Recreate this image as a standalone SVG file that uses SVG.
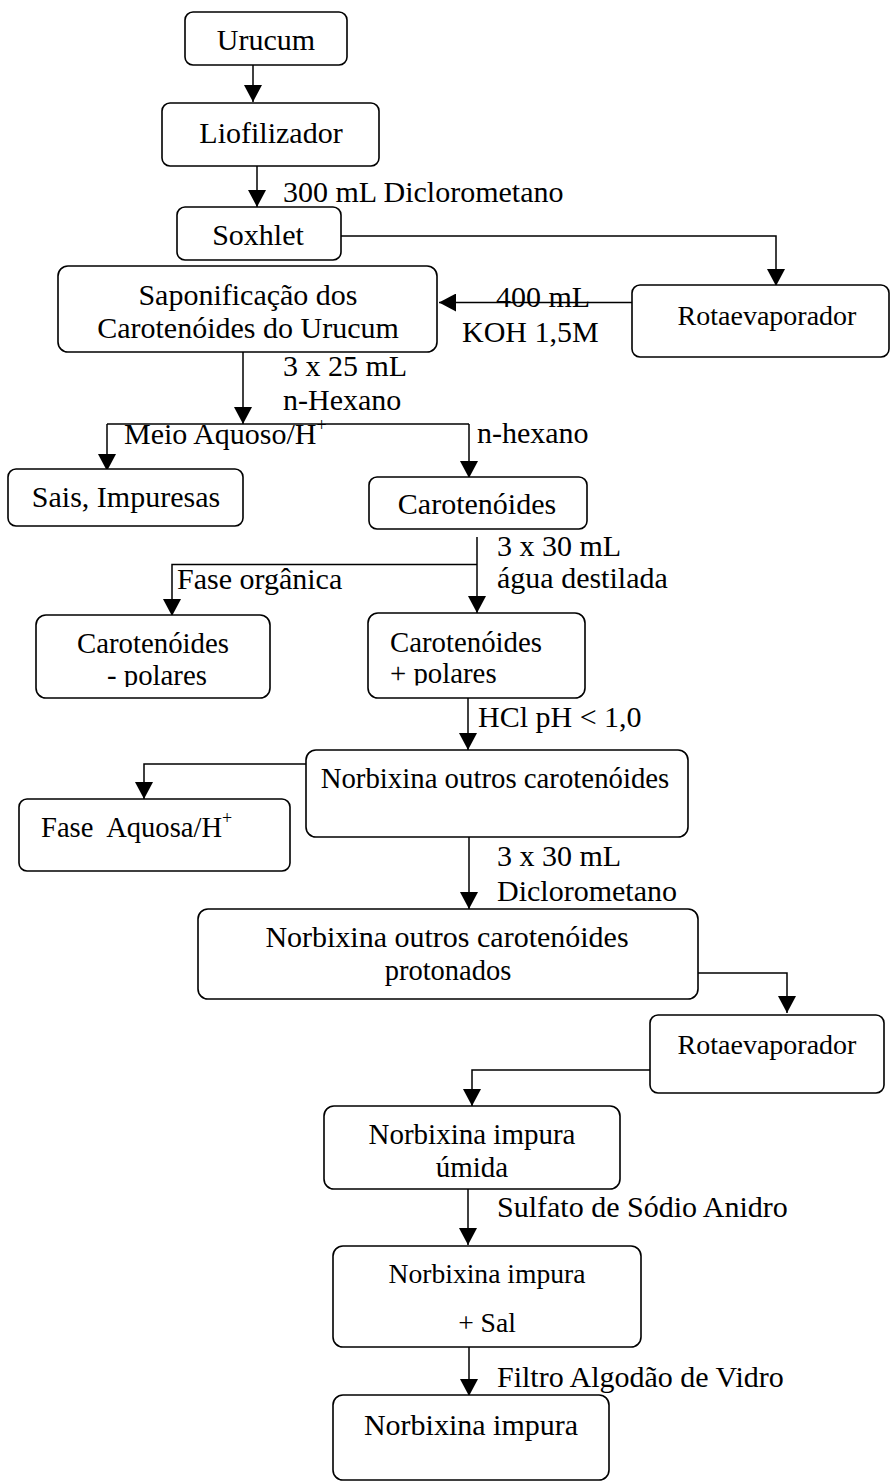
<svg xmlns="http://www.w3.org/2000/svg" width="892" height="1483" viewBox="0 0 892 1483">
<style>
.box{fill:#fff;stroke:#000;stroke-width:1.6}
.ln{fill:none;stroke:#000;stroke-width:1.5}
.t{font-family:"Liberation Serif","Times New Roman",serif;font-size:30px;fill:#000}
.c{text-anchor:middle}
.s{font-size:28.8px}
.sup{font-size:18px}
.pre{white-space:pre}
</style>
<defs>
<marker id="ah" markerUnits="userSpaceOnUse" markerWidth="18" markerHeight="18" refX="17" refY="9" orient="auto" viewBox="0 0 18 18">
<path d="M0,0 L17,9 L0,18 z" fill="#000"/>
</marker>
<clipPath id="clipA"><rect x="0" y="0" width="892" height="687"/></clipPath>
<clipPath id="clipB"><rect x="0" y="0" width="892" height="685.5"/></clipPath>
</defs>

<g id="connectors">
<line class="ln" x1="253" y1="65" x2="253" y2="102" marker-end="url(#ah)"/>
<line class="ln" x1="257" y1="166" x2="257" y2="207" marker-end="url(#ah)"/>
<polyline class="ln" points="341,236 776,236 776,286" marker-end="url(#ah)"/>
<line class="ln" x1="632" y1="302.5" x2="439" y2="302.5" marker-end="url(#ah)"/>
<line class="ln" x1="243" y1="352" x2="243" y2="424" marker-end="url(#ah)"/>
<line class="ln" x1="107" y1="424" x2="469" y2="424"/>
<line class="ln" x1="107" y1="424" x2="107" y2="471" marker-end="url(#ah)"/>
<line class="ln" x1="469" y1="424" x2="469" y2="478" marker-end="url(#ah)"/>
<line class="ln" x1="477" y1="537" x2="477" y2="613" marker-end="url(#ah)"/>
<polyline class="ln" points="477,564.5 172,564.5 172,616" marker-end="url(#ah)"/>
<line class="ln" x1="468" y1="698" x2="468" y2="750" marker-end="url(#ah)"/>
<polyline class="ln" points="306,764 144,764 144,799" marker-end="url(#ah)"/>
<line class="ln" x1="469" y1="837" x2="469" y2="909" marker-end="url(#ah)"/>
<polyline class="ln" points="698,973 787,973 787,1013" marker-end="url(#ah)"/>
<polyline class="ln" points="650,1070 472,1070 472,1106" marker-end="url(#ah)"/>
<line class="ln" x1="468" y1="1189" x2="468" y2="1245" marker-end="url(#ah)"/>
<line class="ln" x1="469" y1="1344" x2="469" y2="1396" marker-end="url(#ah)"/>
</g>

<g id="labels">
<text class="t" x="283" y="202">300 mL Diclorometano</text>
<text class="t" x="496" y="307">400 mL</text>
<text class="t" x="462" y="342">KOH 1,5M</text>
<text class="t" x="283" y="376">3 x 25 mL</text>
<text class="t" x="283" y="410">n-Hexano</text>
<text class="t" x="124" y="444">Meio Aquoso/H<tspan class="sup" dy="-13">+</tspan></text>
<text class="t" x="477" y="443">n-hexano</text>
<text class="t" x="497" y="556">3 x 30 mL</text>
<text class="t" x="497" y="588">água destilada</text>
<text class="t" x="177" y="589">Fase orgânica</text>
<text class="t" x="478" y="727">HCl pH &lt; 1,0</text>
<text class="t" x="497" y="866">3 x 30 mL</text>
<text class="t" x="497" y="901">Diclorometano</text>
<text class="t" x="497" y="1217">Sulfato de Sódio Anidro</text>
<text class="t" x="497" y="1387">Filtro Algodão de Vidro</text>
</g>

<g id="n-urucum">
<rect class="box" x="185" y="12" width="162" height="53" rx="8"/>
<text class="t c" x="266" y="50">Urucum</text>
</g>
<g id="n-liofilizador">
<rect class="box" x="162" y="103" width="217" height="63" rx="8"/>
<text class="t c" x="271" y="143">Liofilizador</text>
</g>
<g id="n-soxhlet">
<rect class="box" x="177" y="207" width="164" height="53" rx="8"/>
<text class="t c" x="258" y="245">Soxhlet</text>
</g>
<g id="n-rota1">
<rect class="box" x="632" y="285" width="257" height="72" rx="8"/>
<text class="t c" x="767" y="325" style="font-size:28px">Rotaevaporador</text>
</g>
<g id="n-saponificacao">
<rect class="box" x="58" y="266" width="379" height="86" rx="10"/>
<text class="t c" x="248" y="305">Saponificação dos</text>
<text class="t c" x="248" y="338">Carotenóides do Urucum</text>
</g>
<g id="n-sais">
<rect class="box" x="8" y="469" width="235" height="57" rx="8"/>
<text class="t c" x="126" y="507">Sais, Impuresas</text>
</g>
<g id="n-carotenoides">
<rect class="box" x="369" y="477" width="218" height="52" rx="8"/>
<text class="t c" x="477" y="514">Carotenóides</text>
</g>
<g id="n-menos-polares">
<rect class="box" x="36" y="615" width="234" height="83" rx="10"/>
<g clip-path="url(#clipA)">
<text class="t s c" x="153" y="653">Carotenóides</text>
<text class="t s" x="107" y="685">- polares</text>
</g>
</g>
<g id="n-mais-polares">
<rect class="box" x="368" y="613" width="217" height="85" rx="10"/>
<g clip-path="url(#clipB)">
<text class="t s" x="390" y="652">Carotenóides</text>
<text class="t s" x="390" y="683">+ polares</text>
</g>
</g>
<g id="n-norbixina1">
<rect class="box" x="306" y="750" width="382" height="87" rx="10"/>
<text class="t c" x="495" y="788" style="font-size:28.8px">Norbixina outros carotenóides</text>
</g>
<g id="n-fase-aquosa">
<rect class="box" x="19" y="799" width="271" height="72" rx="8"/>
<text class="t pre" x="41" y="837" style="font-size:28.6px">Fase  Aquosa/H<tspan class="sup" dy="-13">+</tspan></text>
</g>
<g id="n-norbixina2">
<rect class="box" x="198" y="909" width="500" height="90" rx="10"/>
<text class="t c" x="447" y="947">Norbixina outros carotenóides</text>
<text class="t c" x="448" y="980" style="font-size:28.5px">protonados</text>
</g>
<g id="n-rota2">
<rect class="box" x="650" y="1015" width="234" height="78" rx="8"/>
<text class="t c" x="767" y="1054" style="font-size:28px">Rotaevaporador</text>
</g>
<g id="n-umida">
<rect class="box" x="324" y="1106" width="296" height="83" rx="10"/>
<text class="t c" x="472" y="1144" style="font-size:29px">Norbixina impura</text>
<text class="t c" x="472" y="1177" style="font-size:29px">úmida</text>
</g>
<g id="n-sal">
<rect class="box" x="333" y="1246" width="308" height="101" rx="10"/>
<text class="t c" x="487" y="1283" style="font-size:27.6px">Norbixina impura</text>
<text class="t c" x="487" y="1332" style="font-size:27.6px">+ Sal</text>
</g>
<g id="n-final">
<rect class="box" x="333" y="1395" width="276" height="85" rx="10"/>
<text class="t c" x="471" y="1435">Norbixina impura</text>
</g>
</svg>
